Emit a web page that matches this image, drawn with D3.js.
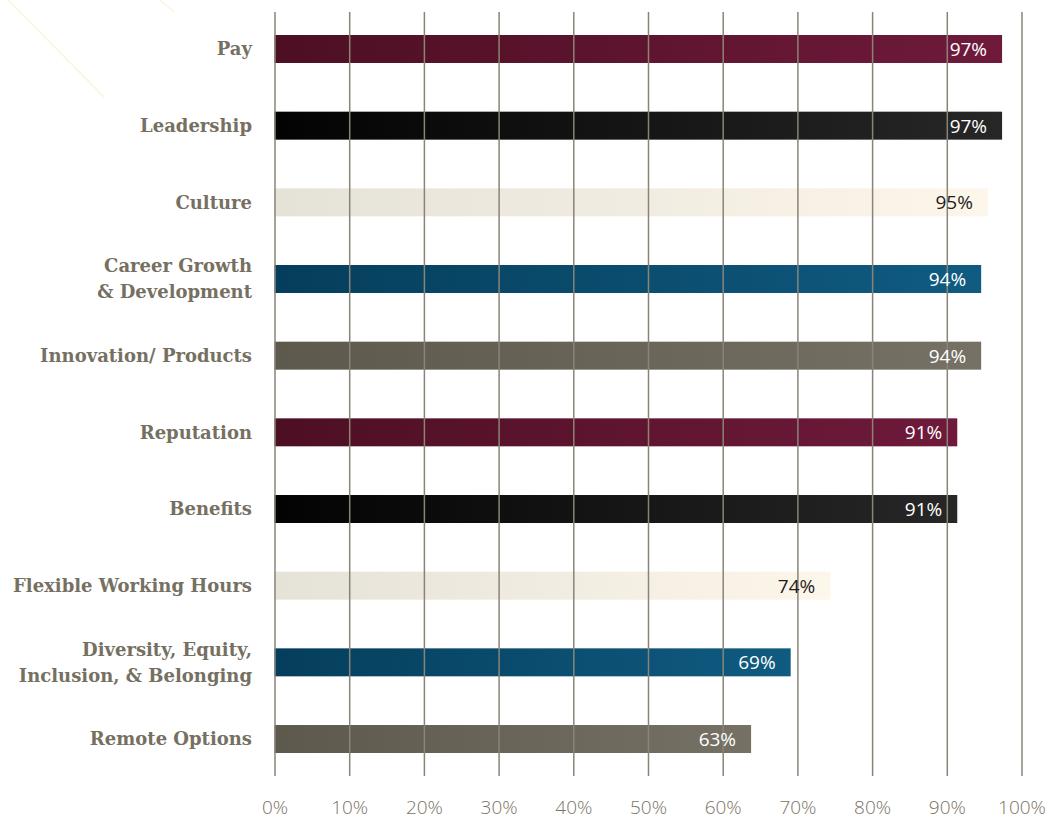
<!DOCTYPE html>
<html>
<head>
<meta charset="utf-8">
<script src="https://cdn.jsdelivr.net/npm/d3@7"></script>
<style>
  html, body { margin: 0; padding: 0; background: #fff; }
  svg { display: block; }
</style>
</head>
<body>
<div id="chart"></div>
<script>
var width = 1053;
var height = 820;

// categories, one line per text row
var categories = [
  ["Pay"],
  ["Leadership"],
  ["Culture"],
  ["Career Growth", "& Development"],
  ["Innovation/ Products"],
  ["Reputation"],
  ["Benefits"],
  ["Flexible Working Hours"],
  ["Diversity, Equity,", "Inclusion, & Belonging"],
  ["Remote Options"]
];
// bar lengths as drawn (%) and the printed labels
var values = [97.4, 97.4, 95.5, 94.6, 94.6, 91.4, 91.4, 74.4, 69.1, 63.8];
var valueLabels = ["97%", "97%", "95%", "94%", "94%", "91%", "91%", "74%", "69%", "63%"];
var ticks = [0, 10, 20, 30, 40, 50, 60, 70, 80, 90, 100];

// colour cycle: [start, end, text]
var palette = [
  ["#4d0f23", "#6f1a3b", "#ffffff"],
  ["#030303", "#272727", "#ffffff"],
  ["#e5e2d8", "#fdf6ea", "#1e1e1e"],
  ["#053e5c", "#105b81", "#ffffff"],
  ["#5d594d", "#767165", "#ffffff"]
];

var margin = {left: 274.5, right: 31.5, top: 12, bottom: 44};

var svg = d3.select("#chart").append("svg")
  .attr("width", width)
  .attr("height", height);

var defs = svg.append("defs");
palette.forEach(function(p, i) {
  var g = defs.append("linearGradient")
    .attr("id", "grad" + i)
    .attr("x1", "0%").attr("x2", "100%").attr("y1", "0%").attr("y2", "0%");
  g.append("stop").attr("offset", "0%").attr("stop-color", p[0]);
  g.append("stop").attr("offset", "100%").attr("stop-color", p[1]);
});

// faint decorative strokes in the corner
svg.append("line").attr("x1", 8).attr("y1", 0).attr("x2", 104).attr("y2", 97)
  .attr("stroke", "#fdf3e1").attr("stroke-width", 1.5);
svg.append("line").attr("x1", 160).attr("y1", 0).attr("x2", 174).attr("y2", 12)
  .attr("stroke", "#fdf3e1").attr("stroke-width", 1.5);

var x = d3.scaleLinear()
  .domain([0, 100])
  .range([margin.left, width - margin.right]);

var y = d3.scaleBand()
  .domain(d3.range(categories.length))
  .range([12, 776])
  .paddingInner(0.635)
  .paddingOuter(0.3);

// bars
svg.selectAll("rect.bar")
  .data(values)
  .enter().append("rect")
  .attr("class", "bar")
  .attr("x", x(0))
  .attr("y", function(d, i) { return y(i); })
  .attr("width", function(d) { return x(d) - x(0); })
  .attr("height", y.bandwidth())
  .attr("fill", function(d, i) { return "url(#grad" + (i % palette.length) + ")"; });

// vertical grid lines over the bars
var axis = d3.axisBottom(x)
  .tickValues(ticks)
  .tickSize(-(776 - margin.top))
  .tickPadding(25)
  .tickFormat(function(d) { return d + "%"; });

var gAxis = svg.append("g")
  .attr("transform", "translate(0,776)")
  .call(axis);
gAxis.select(".domain").remove();
gAxis.selectAll(".tick line")
  .attr("stroke", "#8a8478")
  .attr("stroke-width", 1.5);
gAxis.selectAll(".tick text")
  .attr("fill", "#7a7466")
  .style("font-family", "'Open Sans', sans-serif")
  .style("font-weight", 300)
  .style("font-size", "19px");

// value labels
svg.selectAll("text.val")
  .data(values)
  .enter().append("text")
  .attr("class", "val")
  .attr("x", function(d) { return x(d) - 15; })
  .attr("y", function(d, i) { return y(i) + y.bandwidth() / 2; })
  .attr("dy", "0.36em")
  .attr("text-anchor", "end")
  .attr("fill", function(d, i) { return palette[i % palette.length][2]; })
  .style("font-family", "'Open Sans', sans-serif")
  .style("font-weight", 400)
  .style("font-size", "19px")
  .text(function(d, i) { return valueLabels[i]; });

// category labels
var lab = svg.selectAll("text.cat")
  .data(categories)
  .enter().append("text")
  .attr("class", "cat")
  .attr("x", 252)
  .attr("y", function(d, i) { return y(i) + y.bandwidth() / 2; })
  .attr("text-anchor", "end")
  .attr("fill", "#767062")
  .style("font-family", "'DejaVu Serif', serif")
  .style("font-weight", "bold")
  .style("font-size", "18px");

lab.each(function(d) {
  var t = d3.select(this);
  var n = d.length;
  d.forEach(function(line, k) {
    t.append("tspan")
      .attr("x", 252)
      .attr("dy", k === 0 ? ((0.35 - (n - 1) * 0.72) + "em") : "1.44em")
      .text(line);
  });
});
</script>
</body>
</html>
